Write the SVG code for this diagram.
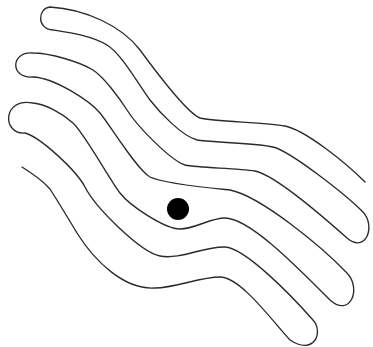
<svg xmlns="http://www.w3.org/2000/svg" width="373" height="347" viewBox="0 0 373 347">
<style>
.line{fill:none;stroke:#2a2a2a;stroke-width:1.35;stroke-linecap:round;stroke-linejoin:round}
.dot{fill:#000}
</style>
<rect width="373" height="347" fill="#fff"/>
<g id="meander">
<path class="line" d="M365,182
C345,162 305,130 285,126
C265,122 215,122 200,118
C185,112 152,66 140,50
C122,26 85,9 50,7
C38,8 36,29 53,30
C72,33 92,36 107,45
C122,54 140,87 150,100
C160,113 182,136 197,140
C220,143 255,143 273,147
C290,151 345,194 363,212
C376,226 366,254 347,238
C320,214 275,175 255,171
C235,168 200,168 185,165
C170,160 137,126 127,110
C120,99 104,77 93,70
C80,62 50,53 33,53
C10,51 10,79 33,77
C55,78 90,101 100,113
C110,125 137,170 150,177
C165,184 210,188 230,190
C260,196 320,245 347,273
C362,289 350,318 330,300
C300,270 250,218 225,218
C210,218 195,229 180,229
C165,229 130,206 120,193
C110,180 84,133 73,123
C62,113 45,104 33,103
C2,97 2,135 25,133
C40,137 76,170 85,187
C95,207 140,252 160,256
C180,260 205,246 225,247
C245,248 290,294 313,320
C324,332 314,356 290,340
C270,318 240,277 220,277
C200,277 175,288 155,288
C125,290 95,262 77,233
C68,218 57,200 50,189
C43,181 30,172 22,167"/>
</g>
<g id="dot">
<circle class="dot" cx="178" cy="209" r="11"/>
</g>
</svg>
